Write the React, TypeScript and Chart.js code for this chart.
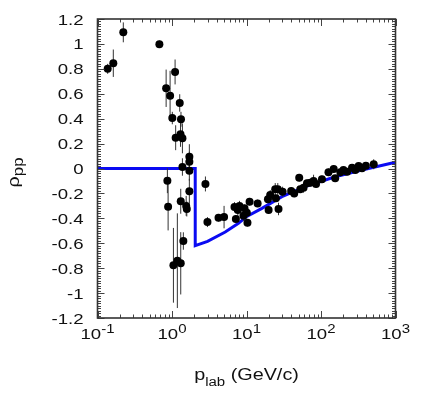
import React, { useEffect, useRef } from "react";
import { Chart, registerables } from "chart.js";
Chart.register(...registerables);

// measured data: p_lab (GeV/c), rho_pp, error
const pLab = [0.137, 0.163, 0.222, 0.677, 0.834, 0.867, 0.887, 0.943, 1.01, 1.045, 1.1, 1.12, 1.18, 1.27, 1.3, 1.31, 1.31, 1.32, 1.38, 1.38, 1.42, 1.55, 1.58, 1.71, 1.71, 1.71, 1.71, 2.81, 2.99, 4.21, 5.0, 6.9, 7.2, 7.65, 8.05, 9.1, 9.4, 10.1, 10.3, 11.0, 14.1, 19.4, 19.8, 20.8, 24.3, 24.8, 26.3, 26.9, 30.5, 39.8, 43.7, 51, 52.7, 58.3, 64.9, 71.8, 79.5, 85.8, 103, 126, 148, 155, 182, 200, 224, 261, 289, 320, 355, 400, 510];
const rho = [0.8, 0.845, 1.093, 0.997, 0.644, -0.098, -0.307, 0.584, 0.405, -0.777, 0.775, 0.247, -0.74, 0.526, 0.274, -0.263, -0.761, 0.395, 0.242, 0.012, -0.582, -0.3, -0.325, 0.095, 0.055, -0.018, -0.183, -0.124, -0.43, -0.395, -0.39, -0.31, -0.405, -0.333, -0.3, -0.38, -0.32, -0.355, -0.435, -0.266, -0.28, -0.247, -0.333, -0.213, -0.167, -0.239, -0.167, -0.325, -0.186, -0.18, -0.2, -0.074, -0.167, -0.154, -0.119, -0.114, -0.1, -0.124, -0.087, -0.031, -0.004, -0.079, -0.031, -0.012, -0.026, 0.006, -0.012, 0.02, 0.002, 0.022, 0.034];
const rhoErr = [0.04, 0.11, 0.08, 0.03, 0.15, 0.1, 0.19, 0.2, 0.05, 0.3, 0.1, 0.1, 0.38, 0.07, 0.1, 0.1, 0.25, 0.06, 0.12, 0.07, 0.07, 0.08, 0.06, 0.1, 0.08, 0.08, 0.1, 0.06, 0.04, 0.03, 0.09, 0.04, 0.03, 0.05, 0.04, 0.04, 0.03, 0.04, 0.03, 0.03, 0.03, 0.03, 0.03, 0.04, 0.05, 0.03, 0.05, 0.05, 0.04, 0.03, 0.03, 0.03, 0.03, 0.04, 0.03, 0.03, 0.05, 0.03, 0.03, 0.03, 0.03, 0.02, 0.03, 0.02, 0.02, 0.03, 0.02, 0.02, 0.02, 0.02, 0.04];

// model curve
const curveP = [0.1, 2.05, 2.05, 3, 5.18, 7.8, 10.1, 16.1, 29.9, 61.7, 155, 355, 1000];
const curveRho = [0, 0, -0.62, -0.585, -0.51, -0.44, -0.385, -0.32, -0.226, -0.146, -0.066, -0.012, 0.05];

const xDecades = [0.1, 1, 10, 100, 1000];
const xExponents = ["-1", "0", "1", "2", "3"];
const yTickValues = [1.2, 1, 0.8, 0.6, 0.4, 0.2, 0, -0.2, -0.4, -0.6, -0.8, -1, -1.2];
const yTickLabels = ["1.2", "1", "0.8", "0.6", "0.4", "0.2", "0", "-0.2", "-0.4", "-0.6", "-0.8", "-1", "-1.2"];
const xTitle = ["p", "lab", " (GeV/c)"];
const yTitle = ["ρ", "pp"];

const FONT = "'Liberation Sans', Arial, sans-serif";
const HS = 1.2;

type Part = { t: string; size: number; dy: number };

function partsWidth(ctx: CanvasRenderingContext2D, parts: Part[]) {
  let w = 0;
  for (const p of parts) {
    ctx.font = `${p.size}px ${FONT}`;
    w += ctx.measureText(p.t).width * HS;
  }
  return w;
}

function drawParts(ctx: CanvasRenderingContext2D, parts: Part[], x: number, y: number, align: "left" | "center" | "right") {
  const w = partsWidth(ctx, parts);
  let cx = align === "left" ? x : align === "center" ? x - w / 2 : x - w;
  ctx.textAlign = "left";
  for (const p of parts) {
    ctx.font = `${p.size}px ${FONT}`;
    const pw = ctx.measureText(p.t).width;
    ctx.save();
    ctx.translate(cx, y + p.dy);
    ctx.scale(HS, 1);
    ctx.fillText(p.t, 0, 0);
    ctx.restore();
    cx += pw * HS;
  }
}

const errorBars = {
  id: "errorBars",
  beforeDatasetDraw(chart: any, args: any) {
    if (args.index !== 0) return;
    const { ctx } = chart;
    const xs = chart.scales.x;
    const ys = chart.scales.y;
    ctx.save();
    ctx.strokeStyle = "#333";
    ctx.lineWidth = 1;
    ctx.beginPath();
    pLab.forEach((p, i) => {
      const px = xs.getPixelForValue(p);
      ctx.moveTo(px, ys.getPixelForValue(rho[i] + rhoErr[i]));
      ctx.lineTo(px, ys.getPixelForValue(rho[i] - rhoErr[i]));
    });
    ctx.stroke();
    ctx.restore();
  },
};

const frame = {
  id: "frame",
  afterDraw(chart: any) {
    const { ctx, chartArea: a } = chart;
    const xs = chart.scales.x;
    const ys = chart.scales.y;
    ctx.save();
    ctx.strokeStyle = "#444";
    ctx.lineWidth = 1;
    ctx.beginPath();
    // y ticks
    for (let k = -60; k <= 60; k++) {
      const v = k * 0.02;
      const py = Math.round(ys.getPixelForValue(v)) + 0.5;
      const len = k % 10 === 0 ? 7 : 3.5;
      ctx.moveTo(a.left, py);
      ctx.lineTo(a.left + len, py);
      ctx.moveTo(a.right, py);
      ctx.lineTo(a.right - len, py);
    }
    // x ticks
    for (let d = 0; d < xDecades.length; d++) {
      const dec = xDecades[d];
      for (let m = 1; m <= 9; m++) {
        const v = dec * m;
        if (v > 1000.001) break;
        const px = Math.round(xs.getPixelForValue(v)) + 0.5;
        const len = m === 1 ? 7 : 3.5;
        ctx.moveTo(px, a.bottom);
        ctx.lineTo(px, a.bottom - len);
        ctx.moveTo(px, a.top);
        ctx.lineTo(px, a.top + len);
      }
    }
    ctx.stroke();
    ctx.lineWidth = 1.6;
    ctx.strokeStyle = "#333";
    ctx.strokeRect(a.left, a.top, a.right - a.left, a.bottom - a.top);

    // text
    ctx.fillStyle = "#111";
    ctx.textBaseline = "alphabetic";
    yTickValues.forEach((v, i) => {
      const py = ys.getPixelForValue(v);
      drawParts(ctx, [{ t: yTickLabels[i], size: 15.5, dy: 0 }], a.left - 14, py + 5.5, "right");
    });
    xDecades.forEach((v, i) => {
      const px = xs.getPixelForValue(v);
      drawParts(ctx, [
        { t: "10", size: 15.5, dy: 0 },
        { t: xExponents[i], size: 12.5, dy: -6.5 },
      ], px, a.bottom + 21, "center");
    });
    const cxm = (a.left + a.right) / 2;
    drawParts(ctx, [
      { t: xTitle[0], size: 16.5, dy: 0 },
      { t: xTitle[1], size: 12.5, dy: 6 },
      { t: xTitle[2], size: 16.5, dy: 0 },
    ], cxm, a.bottom + 62, "center");

    // y title rotated
    ctx.save();
    ctx.translate(19, (a.top + a.bottom) / 2 + 4);
    ctx.rotate(-Math.PI / 2);
    drawParts(ctx, [
      { t: yTitle[0], size: 16.5, dy: 0 },
      { t: yTitle[1], size: 14, dy: 4 },
    ], 0, 0, "center");
    ctx.restore();
    ctx.restore();
  },
};

export default function App() {
  const ref = useRef<HTMLCanvasElement | null>(null);
  useEffect(() => {
    document.body.style.margin = "0";
    const canvas = ref.current!;
    const chart = new Chart(canvas, {
      type: "scatter",
      data: {
        datasets: [
          {
            type: "scatter",
            data: pLab.map((p, i) => ({ x: p, y: rho[i] })),
            pointRadius: 4,
            pointBackgroundColor: "#000",
            pointBorderWidth: 0,
            order: 0,
          } as any,
          {
            type: "line",
            data: curveP.map((p, i) => ({ x: p, y: curveRho[i] })),
            borderColor: "#0b0bf2",
            borderWidth: 3,
            pointRadius: 0,
            tension: 0,
            fill: false,
            order: 1,
          } as any,
        ],
      },
      options: {
        animation: false,
        responsive: false,
        maintainAspectRatio: false,
        layout: { padding: { left: 0, right: 36.5, top: 19, bottom: 0 } },
        plugins: { legend: { display: false }, tooltip: { enabled: false } },
        scales: {
          x: {
            type: "logarithmic",
            min: 0.1,
            max: 1000,
            grid: { display: false, drawTicks: false },
            border: { display: false },
            ticks: { display: false },
            afterFit: (s: any) => { s.height = 85; },
          },
          y: {
            type: "linear",
            min: -1.2,
            max: 1.2,
            grid: { display: false, drawTicks: false },
            border: { display: false },
            ticks: { display: false, stepSize: 0.2 },
            afterFit: (s: any) => { s.width = 97.5; },
          },
        },
      } as any,
      plugins: [errorBars, frame],
    });
    return () => chart.destroy();
  }, []);
  return (
    <div style={{ width: 432, height: 403 }}>
      <canvas ref={ref} width={432} height={403} />
    </div>
  );
}
